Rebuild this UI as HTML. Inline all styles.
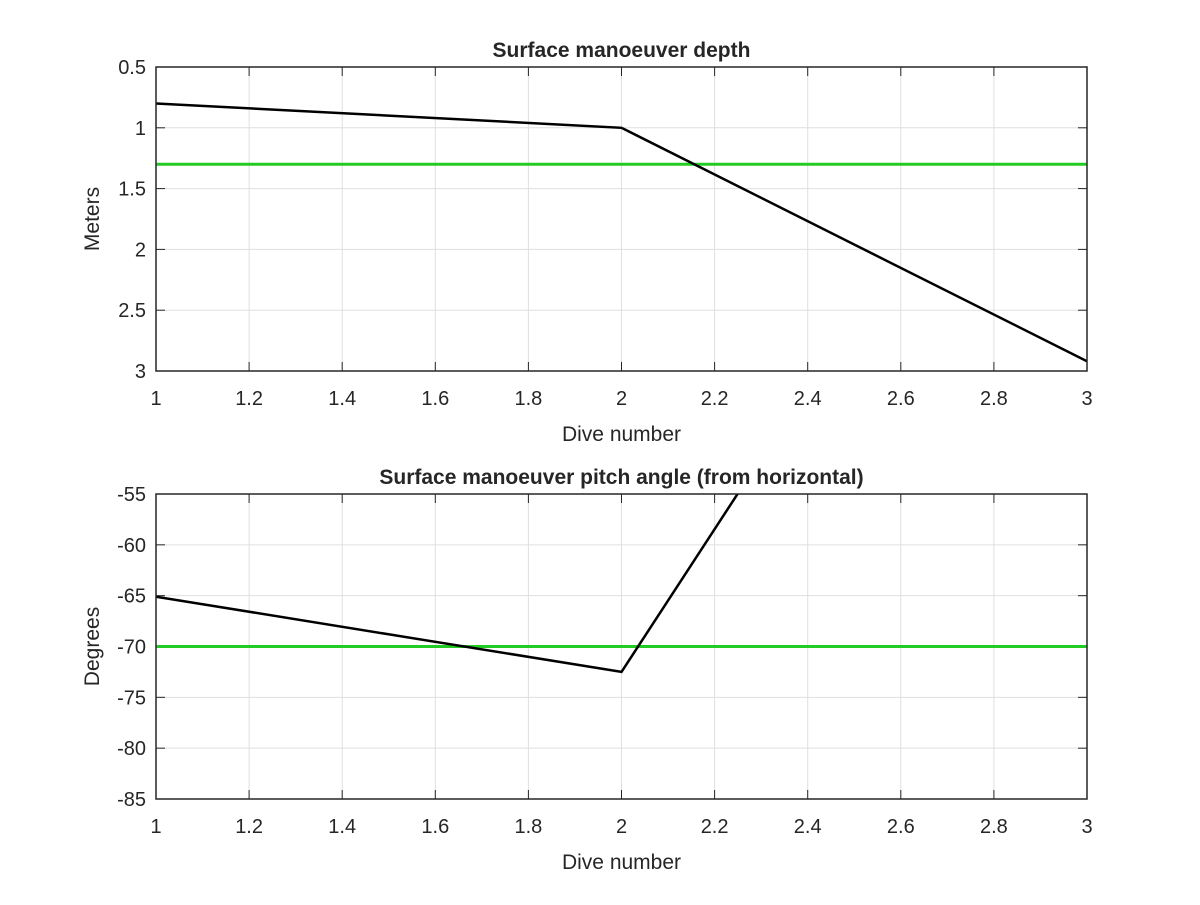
<!DOCTYPE html>
<html><head><meta charset="utf-8"><style>
body{margin:0;background:#fff;}
svg text{font-family:"Liberation Sans",Arial,sans-serif;fill:#262626;}
</style></head><body>
<svg width="1200" height="900" xmlns="http://www.w3.org/2000/svg">
<g id="p1"></g>
<g id="p2"></g>
</svg>
<script>
const diveNumbers = [1, 2, 3];
const depthValues = [0.80, 1.0, 2.92];
const depthTarget = 1.3;
const pitchValues = [-65.1, -72.5, -2.3];
const pitchTarget = -70;
const xTicks = [1,1.2,1.4,1.6,1.8,2,2.2,2.4,2.6,2.8,3];
const depthTicks = [0.5,1,1.5,2,2.5,3];
const pitchTicks = [-55,-60,-65,-70,-75,-80,-85];
const NS="http://www.w3.org/2000/svg";
function mk(p,t,a){const e=document.createElementNS(NS,t);for(const k in a)e.setAttribute(k,a[k]);p.appendChild(e);return e;}
function plot(g,o){
  const L=156,R=1087,T=o.top,B=o.bot;
  const xs=v=>L+(v-1)/2*(R-L);
  const ys=v=>o.rev? T+(v-o.y0)/(o.y1-o.y0)*(B-T) : B-(v-o.y0)/(o.y1-o.y0)*(B-T);
  const cid='c'+g.id;
  const cp=mk(g,'clipPath',{id:cid});mk(cp,'rect',{x:L,y:T,width:R-L,height:B-T});
  xTicks.forEach(t=>{const x=xs(t);
    const l=mk(g,'line',{x1:x,x2:x,y1:T,y2:B,stroke:'#dfdfdf','stroke-width':1});
    
    mk(g,'line',{x1:x,x2:x,y1:B,y2:B-9,stroke:'#262626'});mk(g,'line',{x1:x,x2:x,y1:T,y2:T+9,stroke:'#262626'});
    const tx=mk(g,'text',{x:x,y:B+34,'font-size':20,'text-anchor':'middle'});tx.textContent=String(t);
    });
  o.ticks.forEach(t=>{const y=ys(t);
    const l=mk(g,'line',{x1:L,x2:R,y1:y,y2:y,stroke:'#dfdfdf','stroke-width':1});
    
    mk(g,'line',{x1:L,x2:L+9,y1:y,y2:y,stroke:'#262626'});mk(g,'line',{x1:R,x2:R-9,y1:y,y2:y,stroke:'#262626'});
    const tx=mk(g,'text',{x:L-10,y:y+7,'font-size':20,'text-anchor':'end'});tx.textContent=String(t);
    });
  const gl=mk(g,'line',{x1:L,x2:R,y1:ys(o.target),y2:ys(o.target),stroke:'#22cc22','stroke-width':3,'clip-path':`url(#${cid})`});
  
  const pts=diveNumbers.map((d,i)=>xs(d)+','+ys(o.vals[i])).join(' ');
  const pl=mk(g,'polyline',{points:pts,fill:'none',stroke:'#000','stroke-width':2.5,'clip-path':`url(#${cid})`});
  
  const bx=mk(g,'rect',{x:L,y:T,width:R-L,height:B-T,fill:'none',stroke:'#262626','stroke-width':1.5});
  
  const tt=mk(g,'text',{x:(L+R)/2,y:T-10,'font-size':21,'font-weight':'bold','text-anchor':'middle'});tt.textContent=o.title;
  
  const xl=mk(g,'text',{x:(L+R)/2,y:B+70,'font-size':21,'text-anchor':'middle'});xl.textContent='Dive number';
  
  const yl=mk(g,'text',{x:0,y:0,'font-size':21,'text-anchor':'middle',transform:`translate(99,${(T+B)/2}) rotate(-90)`});yl.textContent=o.ylab;
  
}
plot(document.getElementById('p1'),{top:67,bot:371,y0:0.5,y1:3,rev:true,ticks:depthTicks,vals:depthValues,target:depthTarget,title:'Surface manoeuver depth',ylab:'Meters'});
plot(document.getElementById('p2'),{top:494,bot:799,y0:-85,y1:-55,rev:false,ticks:pitchTicks,vals:pitchValues,target:pitchTarget,title:'Surface manoeuver pitch angle (from horizontal)',ylab:'Degrees'});
</script>
</body></html>
